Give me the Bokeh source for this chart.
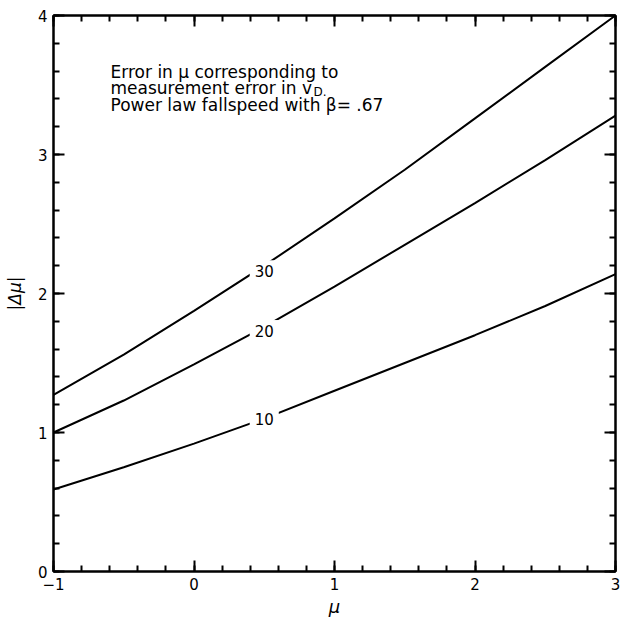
from bokeh.plotting import figure
from bokeh.models import LinearAxis, SingleIntervalTicker, CustomJSTickFormatter
from bokeh.core.properties import value
from bokeh.embed import file_html
from bokeh.resources import INLINE

# data
mu = [-1.0, -0.5, 0.0, 0.5, 1.0, 1.5, 2.0, 2.5, 3.0]
err_10 = [0.59, 0.75, 0.92, 1.10, 1.30, 1.50, 1.70, 1.91, 2.14]
err_20 = [1.00, 1.23, 1.49, 1.76, 2.05, 2.35, 2.65, 2.96, 3.28]
err_30 = [1.27, 1.56, 1.875, 2.20, 2.54, 2.89, 3.26, 3.63, 4.00]
curve_labels = ["10", "20", "30"]
label_x = [0.5, 0.5, 0.5]
label_y = [1.10, 1.73, 2.16]
note_lines = ["Error in \u03bc corresponding to",
              "measurement error in v",
              "Power law fallspeed with \u03b2=  .67"]

FONT = "DejaVu Sans"

p = figure(width=626, height=618, frame_width=562, frame_height=556,
           x_range=(-1, 3), y_range=(0, 4),
           output_backend="svg", toolbar_location=None,
           min_border_left=53, min_border_right=11,
           min_border_top=15, min_border_bottom=47)
p.background_fill_color = "white"
p.border_fill_color = "white"
p.outline_line_color = "black"
p.outline_line_width = 2
p.xgrid.grid_line_color = None
p.ygrid.grid_line_color = None


def style_axis(ax, labels=True):
    ax.ticker = SingleIntervalTicker(interval=1, num_minor_ticks=5)
    ax.axis_line_color = "black"
    ax.axis_line_width = 2
    ax.major_tick_line_color = "black"
    ax.major_tick_line_width = 2
    ax.minor_tick_line_color = "black"
    ax.minor_tick_line_width = 2
    ax.major_tick_in = 11
    ax.major_tick_out = 0
    ax.minor_tick_in = 6
    ax.minor_tick_out = 0
    if labels:
        ax.major_label_text_font = FONT
        ax.major_label_text_font_size = "15px"
        ax.major_label_text_color = "black"
        ax.major_label_standoff = 6
    else:
        ax.formatter = CustomJSTickFormatter(code="return ''")
        ax.major_label_standoff = 0
        ax.major_label_text_font_size = "1px"


for ax in p.xaxis:
    style_axis(ax)
    ax.major_label_overrides = {-1: "\u22121"}
    ax.axis_label = "\u03bc"
    ax.axis_label_text_font = FONT
    ax.axis_label_text_font_style = "italic"
    ax.axis_label_text_font_size = "18px"
    ax.axis_label_text_color = "black"
    ax.axis_label_standoff = 3
for ax in p.yaxis:
    style_axis(ax)
    ax.axis_label = "|\u0394\u03bc|"
    ax.axis_label_text_font = FONT
    ax.axis_label_text_font_style = "italic"
    ax.axis_label_text_font_size = "17px"
    ax.axis_label_text_color = "black"
    ax.axis_label_standoff = 10

top = LinearAxis()
style_axis(top, labels=False)
p.add_layout(top, "above")
right = LinearAxis()
style_axis(right, labels=False)
p.add_layout(right, "right")

for ys in (err_10, err_20, err_30):
    p.line(mu, ys, line_color="black", line_width=2)

p.text(x=label_x, y=label_y, text=curve_labels,
       text_font=value(FONT), text_font_size="15px", text_color="black",
       text_align="center", text_baseline="middle",
       background_fill_color="white", padding=5)

note_y = [3.597, 3.482, 3.353]
for line, yy in zip(note_lines, note_y):
    p.text(x=[-0.594], y=[yy], text=[line], text_font=value(FONT),
           text_font_size="17px", text_color="black",
           text_align="left", text_baseline="alphabetic")
# subscript of v_D
p.text(x=[-0.594], y=[note_y[1]], text=["D."], text_font=value(FONT),
       text_font_size="12px", text_color="black", x_offset=203, y_offset=4,
       text_align="left", text_baseline="alphabetic")

open("out.html", "w").write(file_html(p, INLINE))
